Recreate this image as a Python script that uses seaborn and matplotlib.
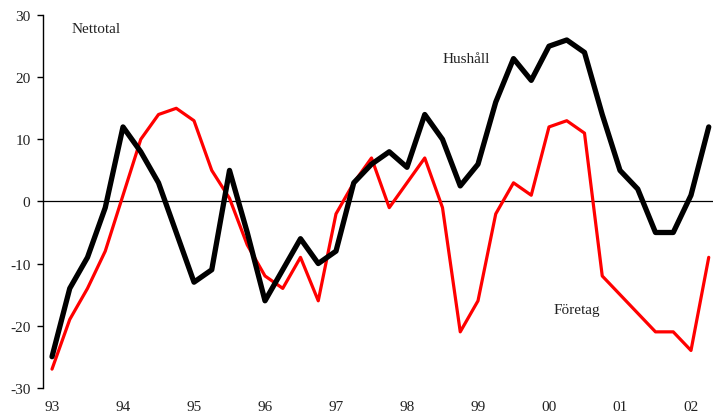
import numpy as np
import pandas as pd
import matplotlib
matplotlib.use("Agg")
import matplotlib.pyplot as plt
import seaborn as sns

# ------------------------------------------------------
# Data: quarterly net balances, 1993 Q1 - 2002 Q2
# ------------------------------------------------------
start_year = 1993
n_quarters = 38

hushall = [-25, -14, -9, -1, 12, 8, 3, -5, -13, -11,
           5, -5, -16, -11, -6, -10, -8, 3, 6, 8,
           5.5, 14, 10, 2.5, 6, 16, 23, 19.5, 25, 26,
           24, 14, 5, 2, -5, -5, 1, 12]

foretag = [-27, -19, -14, -8, 1, 10, 14, 15, 13, 5,
           0.5, -7, -12, -14, -9, -16, -2, 3, 7, -1,
           3, 7, -1, -21, -16, -2, 3, 1, 12, 13,
           11, -12, -15, -18, -21, -21, -24, -9]

tick_years = list(range(1993, 2003))
tick_labels = ["93", "94", "95", "96", "97", "98", "99", "00", "01", "02"]
y_ticks = [-30, -20, -10, 0, 10, 20, 30]

quarters = start_year + np.arange(n_quarters) / 4

df = pd.DataFrame({
    "t": np.concatenate([quarters, quarters]),
    "value": hushall + foretag,
    "serie": ["Hushåll"] * n_quarters + ["Företag"] * n_quarters,
})

# ------------------------------------------------------
# Plot
# ------------------------------------------------------
sns.set_theme(style="white")
plt.rcParams["font.family"] = ["Liberation Serif", "DejaVu Serif"]
plt.rcParams["axes.unicode_minus"] = False

fig = plt.figure(figsize=(7.13, 4.14), dpi=100)
ax = fig.add_axes([0.0603, 0.061, 0.9397, 0.9])

sns.lineplot(data=df, x="t", y="value", hue="serie", size="serie",
             palette={"Hushåll": "black", "Företag": "#ff0000"},
             sizes={"Hushåll": 3.8, "Företag": 2.3},
             hue_order=["Företag", "Hushåll"],
             legend=False, ax=ax)

ax.axhline(0, color="black", lw=0.9, zorder=0)

ax.set_xlim(1992.873, 2002.31)
ax.set_ylim(-30, 30)
ax.set_xticks(tick_years)
ax.set_xticklabels(tick_labels)
ax.set_yticks(y_ticks)
ax.set_xlabel("")
ax.set_ylabel("")

for side in ["top", "right", "bottom"]:
    ax.spines[side].set_visible(False)
ax.spines["left"].set_color("black")
ax.spines["left"].set_linewidth(1.0)

ax.tick_params(axis="y", left=True, length=4, width=1, color="black",
               pad=5, labelsize=11, labelcolor="#222222")
ax.tick_params(axis="x", bottom=False, length=0, pad=9,
               labelsize=11, labelcolor="#222222")

ax.text(1993.27, 27.9, "Nettotal", fontsize=11, color="#222222",
        ha="left", va="center")
ax.text(1998.5, 23.0, "Hushåll", fontsize=11, color="#222222",
        ha="left", va="center")
ax.text(2000.06, -17.4, "Företag", fontsize=11, color="#222222",
        ha="left", va="center")

fig.savefig("out.png", dpi=100)
